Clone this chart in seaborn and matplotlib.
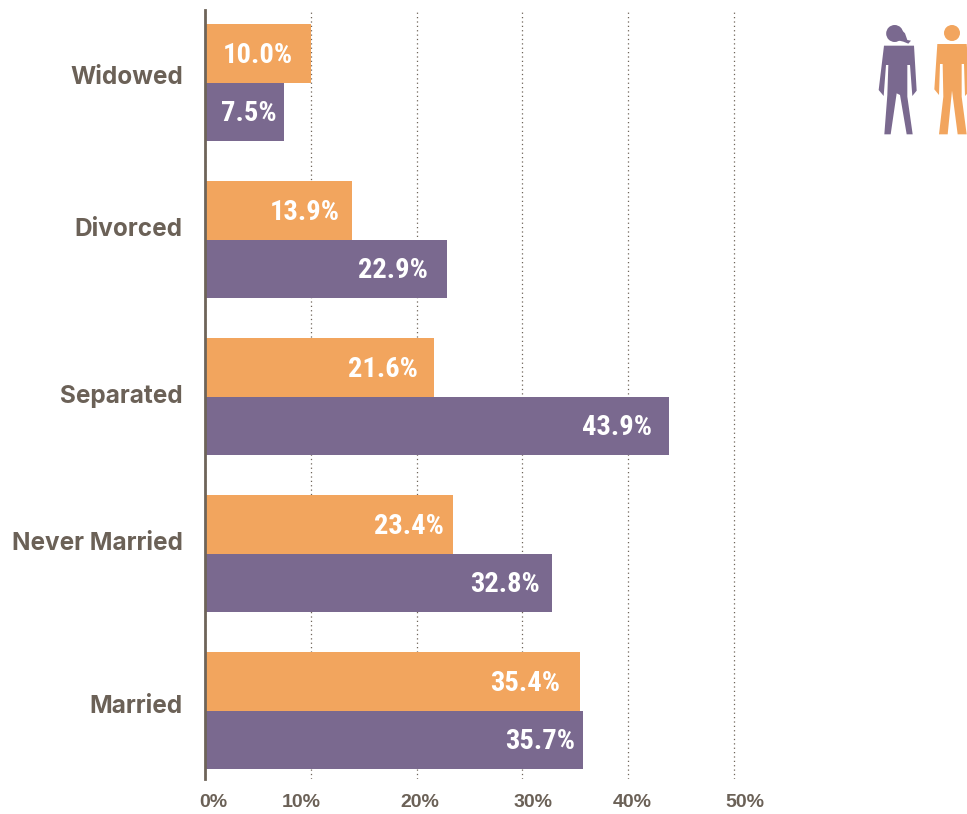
import numpy as np
import pandas as pd
import matplotlib.pyplot as plt
import seaborn as sns
from matplotlib.patches import Circle, Polygon
from matplotlib.transforms import Affine2D

statuses = ['Widowed', 'Divorced', 'Separated', 'Never Married', 'Married']
men = [10.0, 13.9, 21.6, 23.4, 35.4]
women = [7.5, 22.9, 43.9, 32.8, 35.7]
xticks = [0, 10, 20, 30, 40, 50]

ORANGE = '#F2A55E'
PURPLE = '#7A698F'
TEXT = '#6B6157'
W, H = 967, 814

df = pd.DataFrame({'status': statuses * 2,
                   'share': men + women,
                   'sex': ['Men'] * 5 + ['Women'] * 5})

sns.set_style('white')
plt.rcParams['font.family'] = ['Liberation Sans', 'DejaVu Sans']

fig = plt.figure(figsize=(W / 100, H / 100), dpi=100)
ax = fig.add_axes([205 / W, 1 - 779 / H, (W - 205) / W, 769 / H])

sns.barplot(data=df, x='share', y='status', hue='sex', order=statuses,
            hue_order=['Men', 'Women'], palette=[ORANGE, PURPLE],
            width=0.742, gap=0, saturation=1, legend=False, ax=ax, zorder=3,
            linewidth=0, edgecolor='none')

ax.set_xlim(0, (W - 205) / 10.58)
ax.set_ylim(4.436, -0.462)
ax.set_xlabel('')
ax.set_ylabel('')

sns.despine(ax=ax, top=True, right=True, bottom=True)
ax.spines['left'].set_color('#6E6459')
ax.spines['left'].set_linewidth(2.0)
ax.spines['left'].set_zorder(6)

ax.set_xticks(xticks, [f'{t}%' for t in xticks])
ax.grid(axis='x', linestyle=(0, (1, 2.5)), color='#6E6459', linewidth=0.9, zorder=0)
ax.grid(axis='y', visible=False)
ax.tick_params(axis='both', length=0)
ax.tick_params(axis='x', pad=11)
ax.tick_params(axis='y', pad=16)

# labels in the source sit slightly off their ticks
x_shift = [8, -10, 3, 11, 4, 11]
for lab, dx in zip(ax.get_xticklabels(), x_shift):
    lab.set_fontsize(14)
    lab.set_fontweight('bold')
    lab.set_color(TEXT)
    lab.set_transform(lab.get_transform() + Affine2D().translate(dx, 0))

y_shift = [8, 13, 3, 13, 7]
for lab, dy in zip(ax.get_yticklabels(), y_shift):
    lab.set_fontsize(17.5)
    lab.set_fontweight('bold')
    lab.set_family(['Inter', 'Liberation Sans'])
    lab.set_color(TEXT)
    lab.set_transform(lab.get_transform() + Affine2D().translate(0, dy))

# value labels, right aligned inside each bar
men_pad = [18, 12, 16, 9, 19]
women_pad = [8, 19, 17, 12, 8]
for i in range(len(statuses)):
    for vals, pads, off in ((men, men_pad, -0.19), (women, women_pad, 0.18)):
        ax.annotate(f'{vals[i]:.1f}%', (vals[i], i + off), xytext=(-pads[i] * 0.72, 0),
                    textcoords='offset points', ha='right', va='center_baseline',
                    color='white', fontsize=20.5, fontweight='bold',
                    family=['Roboto Condensed', 'Archivo Narrow', 'Liberation Sans'], zorder=5)

# the two person icons, drawn in pixel space
icon = fig.add_axes([0, 0, 1, 1], facecolor='none')
icon.set_xlim(0, W)
icon.set_ylim(H, 0)
icon.axis('off')

woman = [(102, 137), (192, 137), (200, 272), (187, 288), (180, 195), (172, 195), (172, 290),
         (188, 403), (170, 403), (150, 285), (140, 280), (122, 403), (103, 403), (112, 285),
         (115, 195), (108, 195), (101, 288), (86, 270)]
ponytail = [(150, 85), (165, 100), (172, 120), (183, 122), (175, 131), (160, 125), (140, 120)]
man = [(262, 132), (350, 132), (362, 270), (345, 288), (342, 192), (335, 192), (335, 290),
       (350, 403), (323, 403), (306, 272), (293, 403), (267, 403), (280, 290), (278, 192),
       (270, 192), (267, 285), (253, 268)]


def to_px(pts):
    return [(850 + x / 3, y / 3) for x, y in pts]


icon.add_patch(Polygon(to_px(woman), closed=True, fc=PURPLE, ec='none'))
icon.add_patch(Polygon(to_px(ponytail), closed=True, fc=PURPLE, ec='none'))
icon.add_patch(Circle((850 + 134 / 3, 33.5), 8.5, fc=PURPLE, ec='none'))
icon.add_patch(Polygon(to_px(man), closed=True, fc=ORANGE, ec='none'))
icon.add_patch(Circle((850 + 306 / 3, 33), 8, fc=ORANGE, ec='none'))

fig.savefig('out.png', dpi=100)
